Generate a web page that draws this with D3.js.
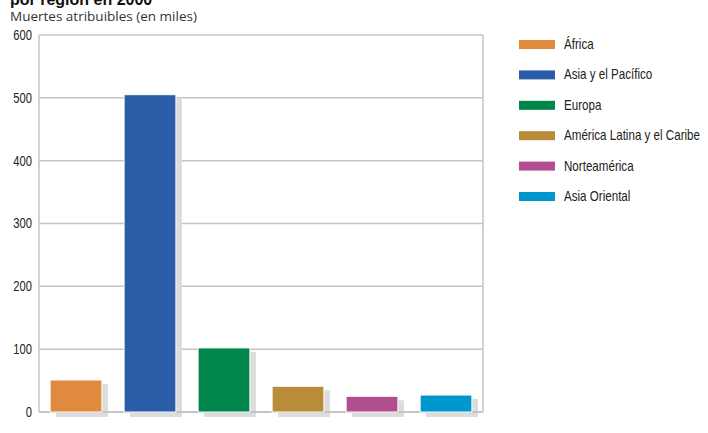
<!DOCTYPE html>
<html>
<head>
<meta charset="utf-8">
<script src="https://cdn.jsdelivr.net/npm/d3@7"></script>
<style>
  body { margin: 0; background: #fff; }
  svg { display: block; }
  .tick text, .legend text { font-family: "Liberation Sans", Arial, sans-serif; fill: #222; }
</style>
</head>
<body>
<div id="chart"></div>
<script>
// data
const regions = ["África", "Asia y el Pacífico", "Europa", "América Latina y el Caribe", "Norteamérica", "Asia Oriental"];
const deaths = [51, 505, 102, 41, 25, 27];
const colors = ["#e08a3f", "#2b5ca8", "#00854a", "#b88c38", "#b04e8e", "#0098cc"];
const yTicks = [0, 100, 200, 300, 400, 500, 600];

const W = 708, H = 433;
const margin = { top: 35, right: 225, bottom: 21, left: 39 };
const width = W - margin.left - margin.right;
const height = H - margin.top - margin.bottom;
const squeeze = 0.8; // condensed look for labels

const svg = d3.select("#chart").append("svg").attr("width", W).attr("height", H);

// title (cut off at top in the original)
svg.append("text")
  .attr("x", 10).attr("y", 5)
  .style("font-family", "Liberation Sans, sans-serif")
  .style("font-weight", "bold").style("font-size", "16px").style("fill", "#111")
  .text("por región en 2000");

svg.append("text")
  .attr("x", 10).attr("y", 21)
  .style("font-family", "Open Sans, sans-serif")
  .style("font-size", "13.5px").style("fill", "#333")
  .text("Muertes atribuibles (en miles)");

const g = svg.append("g").attr("transform", `translate(${margin.left},${margin.top})`);

const x = d3.scaleBand().domain(regions).range([0, width]).paddingInner(0.3).paddingOuter(0.15);
const y = d3.scaleLinear().domain([0, 600]).range([height, 0]);

// gridlines
g.selectAll(".grid")
  .data(yTicks)
  .enter()
  .append("line")
  .attr("class", "grid")
  .attr("x1", 0).attr("x2", width)
  .attr("y1", (d) => y(d)).attr("y2", (d) => y(d))
  .attr("stroke", "#c4c4c4")
  .attr("stroke-width", 1.5);

// frame sides
g.append("line").attr("x1", 0).attr("x2", 0).attr("y1", 0).attr("y2", height)
  .attr("stroke", "#c4c4c4").attr("stroke-width", 1.5);
g.append("line").attr("x1", width).attr("x2", width).attr("y1", 0).attr("y2", height)
  .attr("stroke", "#c4c4c4").attr("stroke-width", 1.5);

// shadows
g.selectAll(".shadow")
  .data(deaths)
  .enter()
  .append("rect")
  .attr("class", "shadow")
  .attr("x", (d, i) => x(regions[i]) + 6)
  .attr("y", (d) => y(d) + 4)
  .attr("width", x.bandwidth())
  .attr("height", (d) => height - y(d) + 1)
  .attr("fill", "#dcdcdc");

// baseline over shadows
g.append("line").attr("x1", 0).attr("x2", width).attr("y1", height).attr("y2", height)
  .attr("stroke", "#c4c4c4").attr("stroke-width", 2);

// bars
g.selectAll(".bar")
  .data(deaths)
  .enter()
  .append("rect")
  .attr("class", "bar")
  .attr("x", (d, i) => x(regions[i]))
  .attr("y", (d) => y(d))
  .attr("width", x.bandwidth())
  .attr("height", (d) => height - y(d))
  .attr("fill", (d, i) => colors[i])
  .attr("stroke", "#fff")
  .attr("stroke-width", 1);

// y axis labels
const yAxis = g.append("g")
  .call(d3.axisLeft(y).tickValues(yTicks).tickSize(0).tickPadding(0));
yAxis.select(".domain").remove();
yAxis.selectAll(".tick text")
  .attr("x", null)
  .style("font-size", "14px")
  .attr("transform", `translate(-7,0) scale(${squeeze},1)`);

// legend
const legend = svg.selectAll(".legend")
  .data(regions)
  .enter()
  .append("g")
  .attr("class", "legend")
  .attr("transform", (d, i) => `translate(519,${44 + i * 30.4})`);

legend.append("rect")
  .attr("x", 0).attr("y", -4)
  .attr("width", 36).attr("height", 9)
  .attr("fill", (d, i) => colors[i]);

legend.append("text")
  .attr("transform", `translate(45,0) scale(${squeeze},1)`)
  .attr("dy", ".35em")
  .style("font-size", "14.5px")
  .text((d) => d);
</script>
</body>
</html>
